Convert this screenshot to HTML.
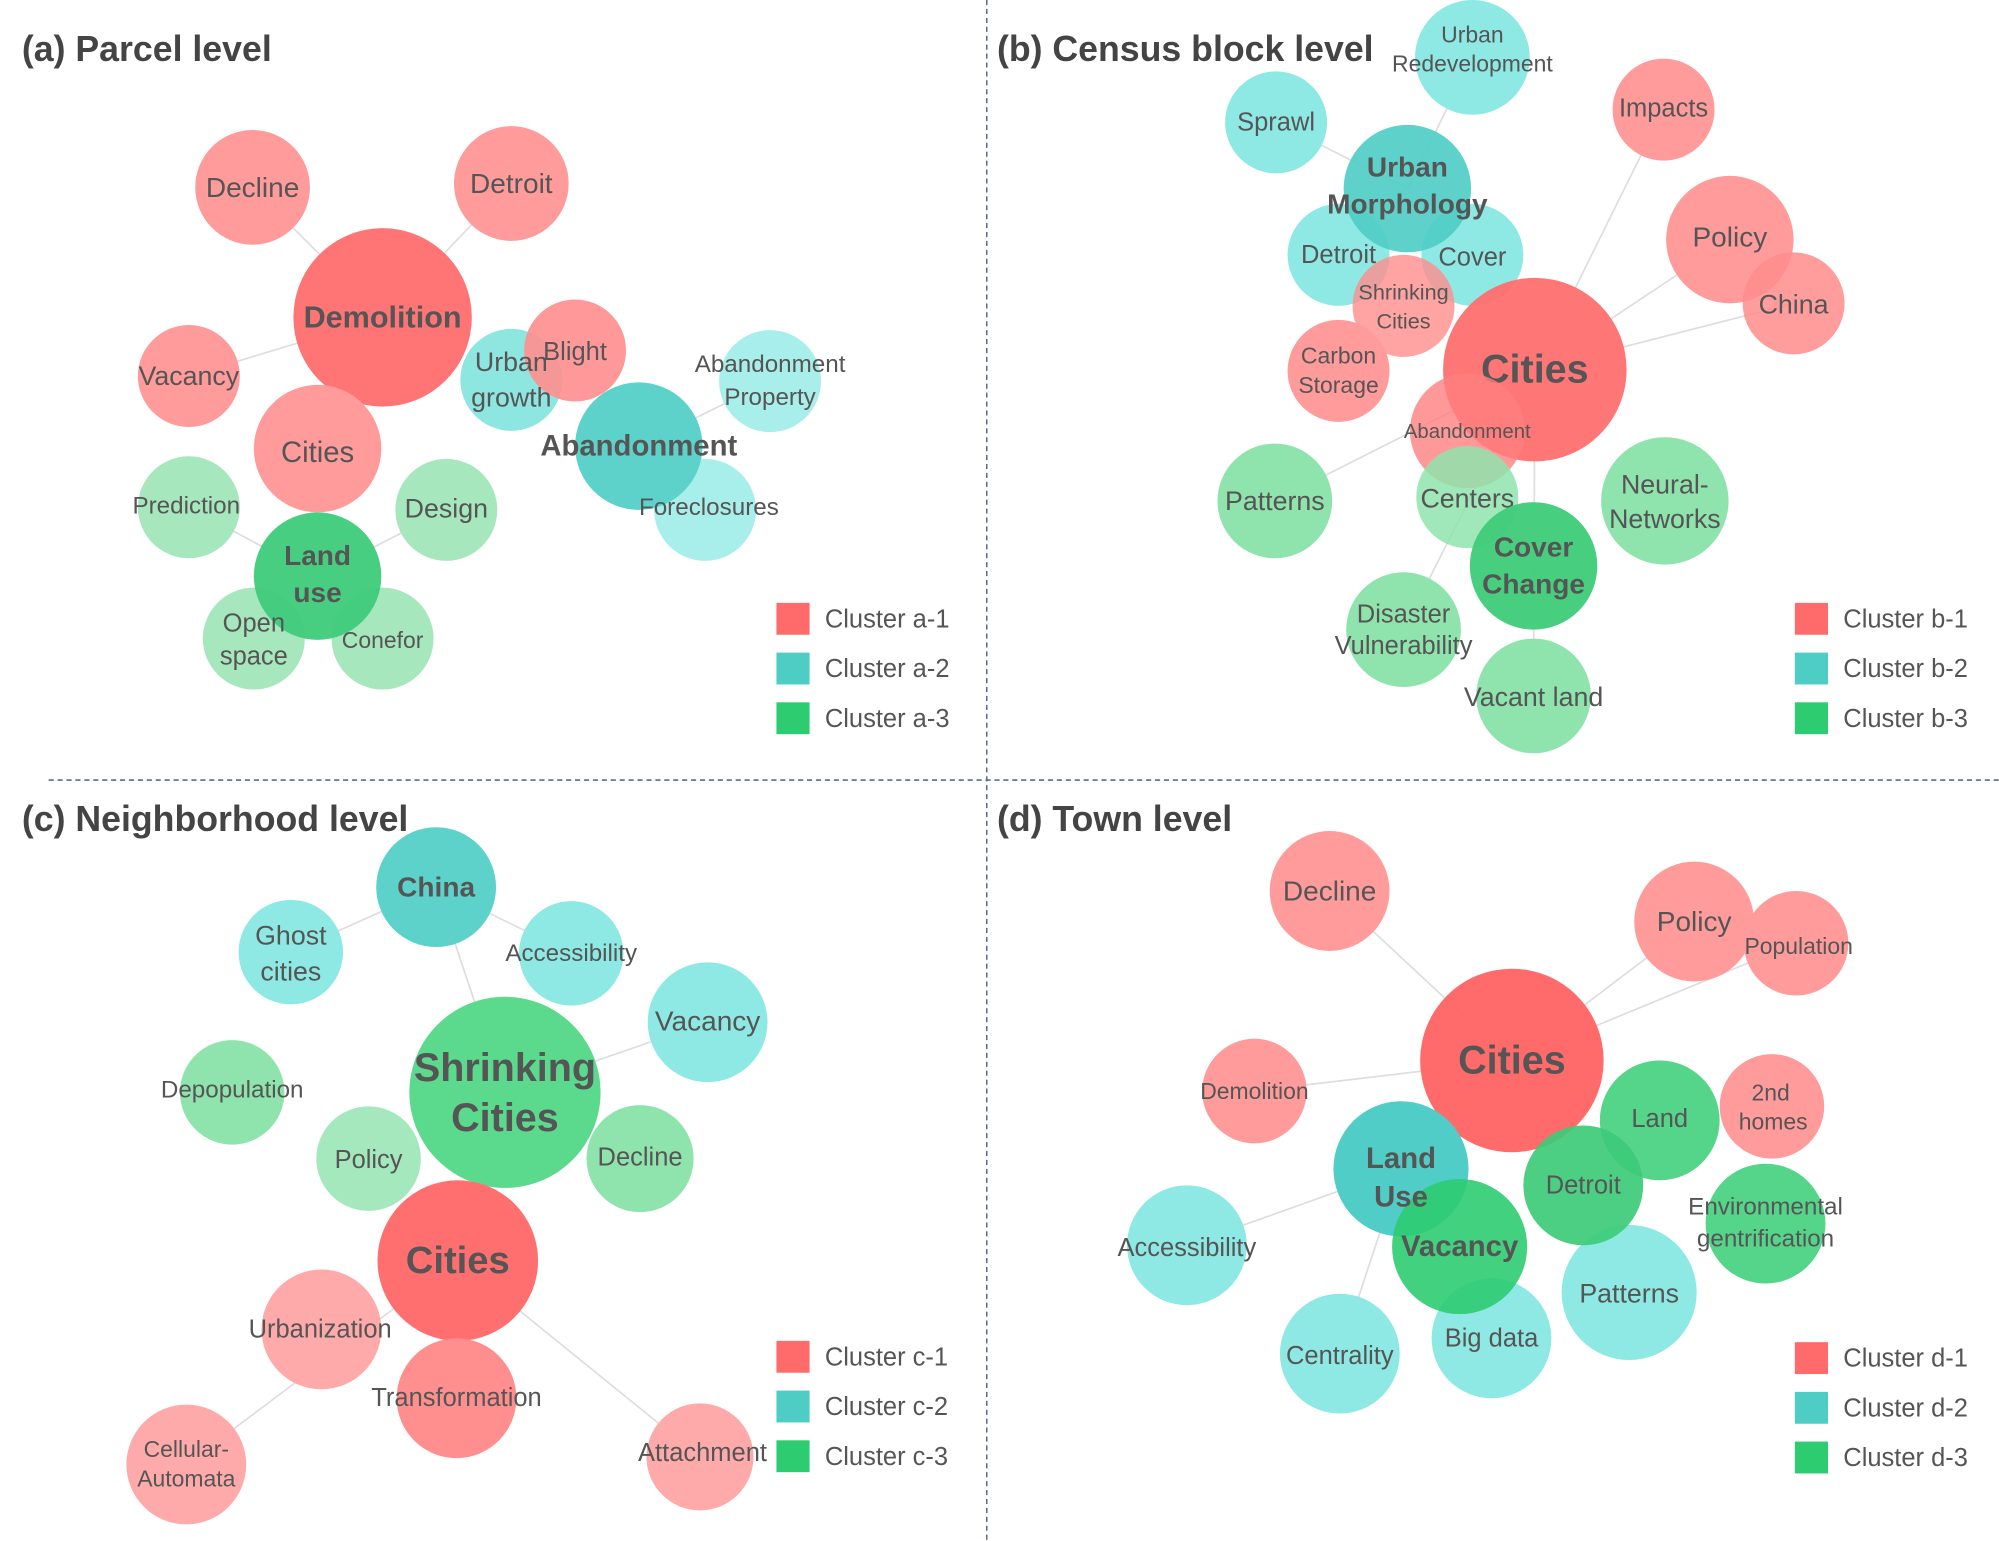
<!DOCTYPE html>
<html><head><meta charset="utf-8"><style>
html,body{margin:0;padding:0;background:#fff}
svg{display:block}
text{font-family:"Liberation Sans",Arial,sans-serif;fill:#555;text-anchor:middle;dominant-baseline:central}
.t{font-weight:bold;font-size:28px;fill:#444;text-anchor:start;dominant-baseline:auto}
.b{font-weight:bold}
.lg{text-anchor:start;font-size:20px}
.e{stroke:#ddd;stroke-width:1.3}
</style></head><body>
<svg width="1999" height="1541" viewBox="0 0 1568 1209" xmlns="http://www.w3.org/2000/svg">
<line x1="774" y1="0" x2="774" y2="1209" stroke="#5b6b8c" stroke-width="1.2" stroke-dasharray="4,3"/>
<line x1="38" y1="612" x2="1568" y2="612" stroke="#5b6b8c" stroke-width="1.2" stroke-dasharray="4,3"/>

<text class="t" x="17" y="48">(a) Parcel level</text>
<text class="t" x="782" y="48">(b) Census block level</text>
<text class="t" x="17" y="652">(c) Neighborhood level</text>
<text class="t" x="782" y="652">(d) Town level</text>

<g class="e">
<line x1="300" y1="249" x2="198" y2="147"/><line x1="300" y1="249" x2="401" y2="144"/>
<line x1="300" y1="249" x2="148" y2="295"/><line x1="501" y1="350" x2="604" y2="299"/>
<line x1="501" y1="350" x2="553" y2="400"/><line x1="249" y1="452" x2="148" y2="398"/>
<line x1="249" y1="452" x2="350" y2="400"/>
<line x1="1204" y1="290" x2="1305" y2="86"/><line x1="1204" y1="290" x2="1357" y2="188"/>
<line x1="1204" y1="290" x2="1407" y2="238"/><line x1="1104" y1="148" x2="1155" y2="45"/>
<line x1="1104" y1="148" x2="1001" y2="96"/><line x1="1204" y1="290" x2="1000" y2="393"/>
<line x1="1204" y1="290" x2="1203" y2="546"/><line x1="1204" y1="290" x2="1101" y2="494"/>
<line x1="396" y1="857" x2="342" y2="696"/><line x1="342" y1="696" x2="228" y2="747"/>
<line x1="342" y1="696" x2="448" y2="748"/><line x1="396" y1="857" x2="555" y2="802"/>
<line x1="359" y1="989" x2="146" y2="1149"/><line x1="359" y1="989" x2="549" y2="1143"/>
<line x1="1186" y1="832" x2="1043" y2="699"/><line x1="1186" y1="832" x2="1329" y2="723"/>
<line x1="1186" y1="832" x2="1409" y2="740"/><line x1="1186" y1="832" x2="984" y2="856"/>
<line x1="1099" y1="917" x2="931" y2="977"/><line x1="1099" y1="917" x2="1051" y2="1062"/>
</g>

<circle cx="198" cy="147" r="45" fill="#ff9b9b"/><text x="198" y="147" font-size="22">Decline</text>
<circle cx="401" cy="144" r="45" fill="#ff9b9b"/><text x="401" y="144" font-size="22">Detroit</text>
<circle cx="300" cy="249" r="70" fill="#ff7575"/><text class="b" x="300" y="249" font-size="24">Demolition</text>
<circle cx="148" cy="295" r="40" fill="#ff9b9b"/><text x="148" y="295" font-size="21">Vacancy</text>
<circle cx="249" cy="352" r="50" fill="#ff9b9b"/><text x="249" y="355" font-size="23">Cities</text>
<circle cx="401" cy="298" r="40" fill="#8ee6e1"/>
<circle cx="451" cy="275" r="40" fill="#ff8e8e" fill-opacity="0.9"/>
<text x="401" y="284" font-size="21">Urban</text><text x="401" y="312" font-size="21">growth</text>
<text x="451" y="276" font-size="20">Blight</text>
<circle cx="604" cy="299" r="40" fill="#a8efeb"/><text x="604" y="286" font-size="19">Abandonment</text><text x="604" y="312" font-size="19">Property</text>
<circle cx="553" cy="400" r="40" fill="#a8efeb"/>
<circle cx="501" cy="350" r="50" fill="#5dd2ca"/><text class="b" x="501" y="350" font-size="23">Abandonment</text>
<text x="556" y="398" font-size="19">Foreclosures</text>
<circle cx="148" cy="398" r="40" fill="#a6e7bd"/><text x="146" y="397" font-size="19">Prediction</text>
<circle cx="350" cy="400" r="40" fill="#a6e7bd"/><text x="350" y="399" font-size="21">Design</text>
<circle cx="199" cy="501" r="40" fill="#a6e7bd"/><circle cx="300" cy="501" r="40" fill="#a6e7bd"/>
<circle cx="249" cy="452" r="50" fill="#3ecb7a" fill-opacity="0.95"/>
<text x="199" y="489" font-size="20">Open</text><text x="199" y="515" font-size="20">space</text>
<text x="300" y="502" font-size="18">Conefor</text>
<text class="b" x="249" y="436" font-size="22">Land</text><text class="b" x="249" y="465" font-size="22">use</text>

<circle cx="1155" cy="45" r="45" fill="#8ee9e4"/><text x="1155" y="27" font-size="18">Urban</text><text x="1155" y="50" font-size="18">Redevelopment</text>
<circle cx="1001" cy="96" r="40" fill="#8ee9e4"/><text x="1001" y="96" font-size="20">Sprawl</text>
<circle cx="1305" cy="86" r="40" fill="#ff9b9b"/><text x="1305" y="85" font-size="20">Impacts</text>
<circle cx="1050" cy="200" r="40" fill="#8ee9e4"/><circle cx="1155" cy="200" r="40" fill="#8ee9e4"/>
<circle cx="1104" cy="148" r="50" fill="#4fcdc6" fill-opacity="0.92"/>
<text x="1050" y="200" font-size="20">Detroit</text><text x="1155" y="202" font-size="20">Cover</text>
<circle cx="1357" cy="188" r="50" fill="#ff9b9b"/><circle cx="1407" cy="238" r="40" fill="#ff8c8c" fill-opacity="0.85"/>
<text x="1357" y="186" font-size="22">Policy</text><text x="1407" y="239" font-size="21">China</text>
<circle cx="1101" cy="240" r="40" fill="#ff8c8c" fill-opacity="0.8"/>
<text class="b" x="1104" y="131" font-size="22">Urban</text><text class="b" x="1104" y="160" font-size="22">Morphology</text>
<text x="1101" y="229" font-size="17">Shrinking</text><text x="1101" y="252" font-size="17">Cities</text>
<circle cx="1050" cy="291" r="40" fill="#ff9b9b"/><text x="1050" y="279" font-size="18">Carbon</text><text x="1050" y="302" font-size="18">Storage</text>
<circle cx="1204" cy="290" r="72" fill="#ff6f6f" fill-opacity="0.95"/><text class="b" x="1204" y="290" font-size="31">Cities</text>
<circle cx="1151" cy="338" r="45" fill="#ff8080" fill-opacity="0.8"/><text x="1151" y="339" font-size="16">Abandonment</text>
<circle cx="1000" cy="393" r="45" fill="#8fe3ad"/><text x="1000" y="393" font-size="21">Patterns</text>
<circle cx="1151" cy="390" r="40" fill="#8fe3ad" fill-opacity="0.85"/><text x="1151" y="391" font-size="21">Centers</text>
<circle cx="1306" cy="393" r="50" fill="#8fe3ad"/><text x="1306" y="380" font-size="21">Neural-</text><text x="1306" y="407" font-size="21">Networks</text>
<circle cx="1101" cy="494" r="45" fill="#8fe3ad"/><circle cx="1203" cy="546" r="45" fill="#8fe3ad"/>
<circle cx="1203" cy="444" r="50" fill="#3ecb78" fill-opacity="0.95"/>
<text class="b" x="1203" y="429" font-size="22">Cover</text><text class="b" x="1203" y="458" font-size="22">Change</text>
<text x="1101" y="482" font-size="20">Disaster</text><text x="1101" y="507" font-size="20">Vulnerability</text>
<text x="1203" y="547" font-size="21">Vacant land</text>

<circle cx="228" cy="747" r="41" fill="#8ee9e4"/><text x="228" y="734" font-size="21">Ghost</text><text x="228" y="762" font-size="21">cities</text>
<circle cx="448" cy="748" r="41" fill="#8ee9e4"/><text x="448" y="748" font-size="19">Accessibility</text>
<circle cx="342" cy="696" r="47" fill="#5dd2ca"/><text class="b" x="342" y="696" font-size="22">China</text>
<circle cx="555" cy="802" r="47" fill="#8ee9e4"/><text x="555" y="801" font-size="22">Vacancy</text>
<circle cx="182" cy="857" r="41" fill="#8fe3ad"/><text x="182" y="855" font-size="19">Depopulation</text>
<circle cx="502" cy="909" r="42" fill="#8fe3ad"/><text x="502" y="908" font-size="20">Decline</text>
<circle cx="396" cy="857" r="75" fill="#5bd98c"/>
<circle cx="289" cy="909" r="41" fill="#9be5b7" fill-opacity="0.9"/><text x="289" y="910" font-size="20">Policy</text>
<text class="b" x="396" y="838" font-size="31">Shrinking</text><text class="b" x="396" y="877" font-size="31">Cities</text>
<circle cx="252" cy="1043" r="47" fill="#ffaaaa"/><circle cx="146" cy="1149" r="47" fill="#ffaaaa"/>
<circle cx="549" cy="1143" r="42" fill="#ffaaaa"/>
<circle cx="359" cy="989" r="63" fill="#ff6f6f"/><text class="b" x="359" y="989" font-size="30">Cities</text>
<circle cx="358" cy="1097" r="47" fill="#ff8e8e"/>
<text x="251" y="1043" font-size="20">Urbanization</text><text x="358" y="1097" font-size="20">Transformation</text>
<text x="146" y="1137" font-size="18">Cellular-</text><text x="146" y="1160" font-size="18">Automata</text>
<text x="551" y="1140" font-size="20">Attachment</text>

<circle cx="1043" cy="699" r="47" fill="#ff9b9b"/><text x="1043" y="699" font-size="22">Decline</text>
<circle cx="1329" cy="723" r="47" fill="#ff9b9b"/><circle cx="1409" cy="740" r="41" fill="#ff9b9b"/>
<text x="1329" y="723" font-size="22">Policy</text><text x="1411" y="742" font-size="18">Population</text>
<circle cx="984" cy="856" r="41" fill="#ff9b9b"/><text x="984" y="856" font-size="18">Demolition</text>
<circle cx="1390" cy="868" r="41" fill="#ff9b9b"/><text x="1389" y="857" font-size="18">2nd</text><text x="1391" y="880" font-size="18">homes</text>
<circle cx="931" cy="977" r="47" fill="#8ee9e4"/><text x="931" y="979" font-size="20">Accessibility</text>
<circle cx="1051" cy="1062" r="47" fill="#8ee9e4"/><text x="1051" y="1064" font-size="20">Centrality</text>
<circle cx="1186" cy="832" r="72" fill="#ff6262" fill-opacity="0.95"/><text class="b" x="1186" y="832" font-size="31">Cities</text>
<circle cx="1302" cy="879" r="47" fill="#4cd383" fill-opacity="0.95"/><text x="1302" y="878" font-size="20">Land</text>
<circle cx="1385" cy="960" r="47" fill="#4cd383" fill-opacity="0.95"/><text x="1385" y="947" font-size="19">Environmental</text><text x="1385" y="972" font-size="19">gentrification</text>
<circle cx="1170" cy="1050" r="47" fill="#8ee9e4"/><circle cx="1278" cy="1014" r="53" fill="#8ee9e4"/>
<circle cx="1242" cy="930" r="47" fill="#3ecb78" fill-opacity="0.92"/>
<circle cx="1099" cy="917" r="53" fill="#4fcdc6"/>
<circle cx="1145" cy="978" r="53" fill="#2ecc71" fill-opacity="0.9"/>
<text x="1242" y="930" font-size="20">Detroit</text>
<text class="b" x="1099" y="909" font-size="23">Land</text><text class="b" x="1099" y="939" font-size="23">Use</text>
<text class="b" x="1145" y="978" font-size="23">Vacancy</text>
<text x="1278" y="1015" font-size="21">Patterns</text><text x="1170" y="1050" font-size="20">Big data</text>

<g font-size="20">
<rect x="609" y="473" width="26" height="25" fill="#ff6b6b"/><text class="lg" x="647" y="486">Cluster a-1</text>
<rect x="609" y="512" width="26" height="25" fill="#4ecdc4"/><text class="lg" x="647" y="525">Cluster a-2</text>
<rect x="609" y="551" width="26" height="25" fill="#2ecc71"/><text class="lg" x="647" y="564">Cluster a-3</text>
<rect x="1408" y="473" width="26" height="25" fill="#ff6b6b"/><text class="lg" x="1446" y="486">Cluster b-1</text>
<rect x="1408" y="512" width="26" height="25" fill="#4ecdc4"/><text class="lg" x="1446" y="525">Cluster b-2</text>
<rect x="1408" y="551" width="26" height="25" fill="#2ecc71"/><text class="lg" x="1446" y="564">Cluster b-3</text>
<rect x="609" y="1052" width="26" height="25" fill="#ff6b6b"/><text class="lg" x="647" y="1065">Cluster c-1</text>
<rect x="609" y="1091" width="26" height="25" fill="#4ecdc4"/><text class="lg" x="647" y="1104">Cluster c-2</text>
<rect x="609" y="1130" width="26" height="25" fill="#2ecc71"/><text class="lg" x="647" y="1143">Cluster c-3</text>
<rect x="1408" y="1053" width="26" height="25" fill="#ff6b6b"/><text class="lg" x="1446" y="1066">Cluster d-1</text>
<rect x="1408" y="1092" width="26" height="25" fill="#4ecdc4"/><text class="lg" x="1446" y="1105">Cluster d-2</text>
<rect x="1408" y="1131" width="26" height="25" fill="#2ecc71"/><text class="lg" x="1446" y="1144">Cluster d-3</text>
</g>
</svg>
</body></html>
